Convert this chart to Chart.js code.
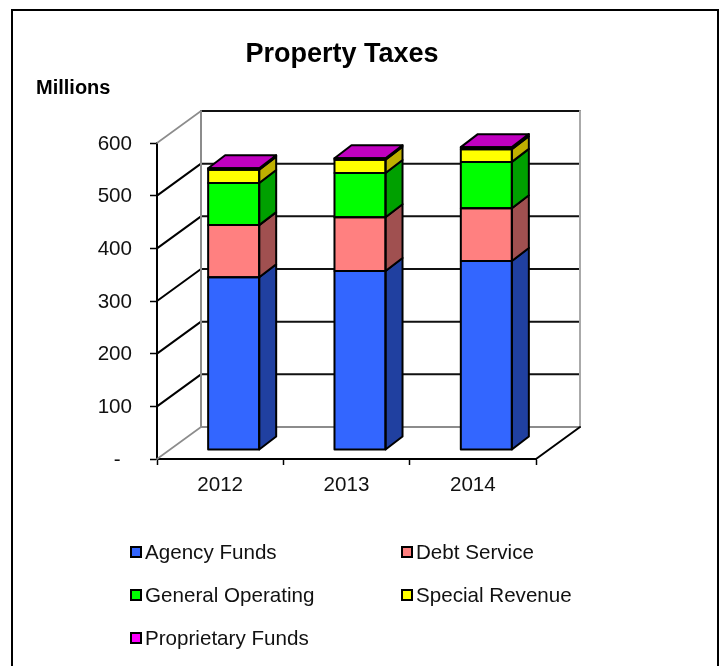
<!DOCTYPE html>
<html>
<head>
<meta charset="utf-8">
<title>Property Taxes</title>
<script src="https://cdn.jsdelivr.net/npm/chart.js@4/dist/chart.umd.min.js"></script>
<style>
    html, body { margin: 0; padding: 0; background: #fff; }
    body { width: 724px; height: 666px; overflow: hidden; position: relative; }
    #frame { position: absolute; left: 11px; top: 9px; width: 704px; height: 680px; border: 2px solid #000; }
    #wrap { position: absolute; left: 0; top: 0; width: 684px; height: 666px; overflow: hidden; }
</style>
</head>
<body>
<div id="frame"></div>
<div id="wrap"><canvas id="taxChart" width="684" height="666"></canvas></div>
<script>
// Valores em milhões
const years = ['2012', '2013', '2014'];
const agencyFunds = [328, 340, 359];
const debtService = [99, 102, 100];
const generalOperating = [80, 84, 88];
const specialRevenue = [25, 25, 24];
const proprietaryFunds = [3, 3, 4];
const yTickLabels = ['-', '100', '200', '300', '400', '500', '600'];

const seriesNames = ['Agency Funds', 'Debt Service', 'General Operating', 'Special Revenue', 'Proprietary Funds'];
const faceColors = ['#3366FF', '#FF8080', '#00FF00', '#FFFF00', '#FF00FF'];
const sideColors = ['#2040A0', '#A05050', '#00A000', '#BFB000', '#A000A0'];
const topColor = '#C000C0';

// Profundidade da parede e das barras
const wallDepth = { x: 44, y: -32 };
const barShift = { x: 13.5, y: -9 };
const barDepth = { x: 17, y: -13 };

const legendColumns = [130, 401];
const legendRows = [553, 596, 639];

const FONT = '"Liberation Sans", Arial, sans-serif';

function poly(ctx, pts, fill, stroke, width) {
    ctx.beginPath();
    pts.forEach((p, i) => i ? ctx.lineTo(p[0], p[1]) : ctx.moveTo(p[0], p[1]));
    ctx.closePath();
    if (fill) { ctx.fillStyle = fill; ctx.fill(); }
    if (stroke) { ctx.strokeStyle = stroke; ctx.lineWidth = width; ctx.stroke(); }
}

function line(ctx, x1, y1, x2, y2, color, width) {
    ctx.beginPath();
    ctx.moveTo(x1, y1);
    ctx.lineTo(x2, y2);
    ctx.strokeStyle = color;
    ctx.lineWidth = width;
    ctx.stroke();
}

// Paredes, grade em "L" e faces laterais das barras
const box3d = {
    id: 'box3d',
    beforeDatasetsDraw(chart) {
        const { ctx, scales: { x, y } } = chart;
        const l = x.left, r = x.right, dx = wallDepth.x, dy = wallDepth.y;
        ctx.save();
        ctx.lineCap = 'round';
        yTickLabels.forEach((_, i) => {
            const py = y.getPixelForValue(i * 100);
            const edge = i === 0 || i === yTickLabels.length - 1;
            line(ctx, l, py, l + dx, py + dy, edge ? '#8c8c8c' : '#000', edge ? 1.6 : 2);
            line(ctx, l + dx, py + dy, r + dx, py + dy, i === 0 ? '#8c8c8c' : '#111', 2);
        });
        const top = y.getPixelForValue(600) + dy, bottom = y.getPixelForValue(0) + dy;
        line(ctx, l + dx, top, l + dx, bottom, '#8c8c8c', 2);
        line(ctx, r + dx, top, r + dx, bottom, '#aaa', 2);
        line(ctx, r, y.getPixelForValue(0), r + dx, bottom, '#000', 2);
        ctx.restore();

        // as barras ficam no meio do piso
        ctx.save();
        ctx.translate(barShift.x, barShift.y);
    },
    afterDatasetsDraw(chart) {
        const { ctx } = chart;
        ctx.restore();
        ctx.save();
        ctx.translate(barShift.x, barShift.y);
        ctx.lineJoin = 'round';
        chart.data.datasets.forEach((ds, i) => {
            chart.getDatasetMeta(i).data.forEach(bar => {
                const lx = bar.x - bar.width / 2, rx = bar.x + bar.width / 2;
                const t = bar.y, b = bar.base, ox = barDepth.x, oy = barDepth.y;
                poly(ctx, [[rx, t], [rx + ox, t + oy], [rx + ox, b + oy], [rx, b]], sideColors[i], '#000', 2);
                if (i === chart.data.datasets.length - 1) {
                    poly(ctx, [[lx, t], [lx + ox, t + oy], [rx + ox, t + oy], [rx, t]], topColor, '#000', 2);
                }
                poly(ctx, [[lx, t], [rx, t], [rx, b], [lx, b]], null, '#000', 2);
            });
        });
        ctx.restore();
    },
    afterDraw(chart) {
        const { ctx } = chart;
        ctx.save();
        ctx.textBaseline = 'alphabetic';
        ctx.textAlign = 'center';

        ctx.fillStyle = '#000';
        ctx.font = 'bold 27px ' + FONT;
        ctx.fillText('Property Taxes', 342, 62);

        ctx.textBaseline = 'middle';
        ctx.textAlign = 'left';
        ctx.font = 'bold 20px ' + FONT;
        ctx.fillText('Millions', 36, 88);

        ctx.font = '20.6px ' + FONT;
        seriesNames.forEach((name, i) => {
            const cx = legendColumns[i % 2], cy = legendRows[Math.floor(i / 2)];
            ctx.fillStyle = faceColors[i];
            ctx.strokeStyle = '#000';
            ctx.lineWidth = 2;
            ctx.fillRect(cx + 1, cy - 6, 10, 10);
            ctx.strokeRect(cx + 1, cy - 6, 10, 10);
            ctx.fillStyle = '#111';
            ctx.fillText(name, cx + 15, cy);
        });
        ctx.restore();
    }
};

const datasets = [agencyFunds, debtService, generalOperating, specialRevenue, proprietaryFunds].map((values, i) => ({
    label: seriesNames[i],
    data: values,
    backgroundColor: faceColors[i],
    borderWidth: 0,
    categoryPercentage: 1,
    barPercentage: 0.404
}));

window.onload = function() {
    const ctx = document.getElementById('taxChart').getContext('2d');
    new Chart(ctx, {
        type: 'bar',
        data: { labels: years, datasets: datasets },
        plugins: [box3d],
        options: {
            responsive: false,
            animation: false,
            layout: { padding: { top: 143, right: 148 } },
            plugins: {
                legend: { display: false },
                tooltip: { enabled: false }
            },
            scales: {
                x: {
                    stacked: true,
                    afterFit(scale) { scale.height = 207; },
                    grid: { drawOnChartArea: false, tickLength: 6, tickColor: '#000', tickWidth: 1.5 },
                    border: { color: '#000', width: 2 },
                    ticks: { color: '#111', padding: 8, maxRotation: 0, font: { family: FONT, size: 20.6 } }
                },
                y: {
                    stacked: true,
                    min: 0,
                    max: 600,
                    afterFit(scale) { scale.width = 157; },
                    grid: { drawOnChartArea: false, tickLength: 7, tickColor: '#000', tickWidth: 1.5 },
                    border: { color: '#000', width: 2 },
                    ticks: {
                        stepSize: 100,
                        color: '#111',
                        padding: 18,
                        labelOffset: 1,
                        font: { family: FONT, size: 20.6 },
                        callback(value) {
                            const label = yTickLabels[value / 100];
                            return label === '-' ? label + '  ' : label;
                        }
                    }
                }
            }
        }
    });
};
</script>
</body>
</html>
